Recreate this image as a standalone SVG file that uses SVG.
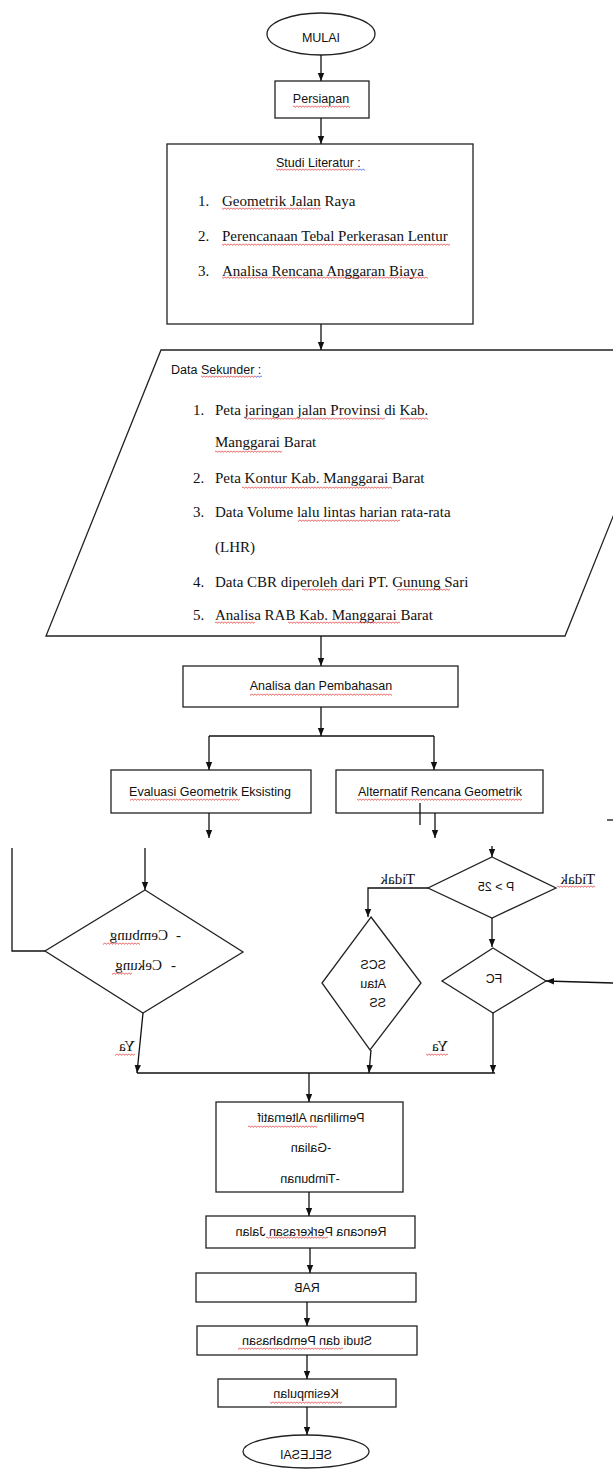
<svg xmlns="http://www.w3.org/2000/svg" width="613" height="1470" viewBox="0 0 613 1470">
<style>
.sh{fill:#fff;stroke:#222;stroke-width:1.3}
.cn{fill:none;stroke:#111;stroke-width:1.3}
.ar{marker-end:url(#ah)}
.s{font-family:"Liberation Sans",Arial,sans-serif;font-size:12.5px;fill:#111}
.m{font-family:"Liberation Serif","Times New Roman",serif;font-size:15px;fill:#111}
.c{text-anchor:middle}
.sq{fill:url(#sqr)}
.sb{fill:url(#sqb)}
</style>
<defs>
<marker id="ah" viewBox="0 0 10 10" refX="10" refY="5" markerWidth="8" markerHeight="8" markerUnits="userSpaceOnUse" orient="auto"><path d="M0,1 L10,5 L0,9 z" fill="#111"/></marker>
<pattern id="sqr" width="3" height="3" patternUnits="userSpaceOnUse"><path d="M0,0.6 L1.5,2.4 L3,0.6" fill="none" stroke="#e02020" stroke-width="0.7"/></pattern>
<pattern id="sqb" width="3" height="3" patternUnits="userSpaceOnUse"><path d="M0,0.6 L1.5,2.4 L3,0.6" fill="none" stroke="#2040e0" stroke-width="0.7"/></pattern>
</defs>
<rect width="613" height="1470" fill="#fff"/>

<g id="mulai">
<ellipse class="sh" cx="321" cy="34" rx="54" ry="21"/>
<text class="s c" x="321" y="42" font-size="12">MULAI</text>
</g>

<g id="persiapan">
<rect class="sh" x="275" y="81" width="94" height="37"/>
<text class="s c" x="321" y="103">Persiapan</text>
<rect class="sq" x="293" y="105" width="57" height="3"/>
</g>

<g id="studi-literatur">
<rect class="sh" x="167" y="144" width="306" height="180"/>
<text class="s" x="276" y="167" font-size="13">Studi Literatur :</text>
<rect class="sq" x="276" y="168" width="80" height="3"/>
<rect class="sb" x="356" y="168" width="9" height="3"/>
<text class="m" x="198" y="206">1.</text>
<text class="m" x="222" y="206">Geometrik Jalan Raya</text>
<rect class="sq" x="222" y="207" width="99" height="3"/>
<text class="m" x="198" y="241">2.</text>
<text class="m" x="222" y="241">Perencanaan Tebal Perkerasan Lentur</text>
<rect class="sq" x="222" y="243" width="228" height="3"/>
<text class="m" x="198" y="276">3.</text>
<text class="m" x="222" y="276">Analisa Rencana Anggaran Biaya</text>
<rect class="sq" x="222" y="276" width="206" height="3"/>
</g>

<g id="data-sekunder">
<polygon class="sh" points="161,350 680,350 565,636 46,636"/>
<text class="s" x="171" y="374" font-size="12.3">Data Sekunder :</text>
<rect class="sq" x="201" y="375" width="54" height="3"/>
<rect class="sb" x="255" y="375" width="7" height="3"/>
<text class="m" x="193" y="415">1.</text>
<text class="m" x="215" y="415">Peta jaringan jalan Provinsi di Kab.</text>
<rect class="sq" x="245" y="417" width="140" height="3"/>
<rect class="sq" x="400" y="417" width="28" height="3"/>
<text class="m" x="215" y="447">Manggarai Barat</text>
<rect class="sq" x="215" y="450" width="67" height="3"/>
<text class="m" x="193" y="483">2.</text>
<text class="m" x="215" y="483">Peta Kontur Kab. Manggarai Barat</text>
<rect class="sq" x="242" y="486" width="150" height="3"/>
<text class="m" x="193" y="517">3.</text>
<text class="m" x="215" y="517">Data Volume lalu lintas harian rata-rata</text>
<rect class="sq" x="298" y="519" width="102" height="3"/>
<text class="m" x="215" y="552">(LHR)</text>
<text class="m" x="193" y="587">4.</text>
<text class="m" x="215" y="587">Data CBR diperoleh dari PT. Gunung Sari</text>
<rect class="sq" x="302" y="588" width="51" height="3"/>
<rect class="sq" x="397" y="588" width="53" height="3"/>
<text class="m" x="193" y="620">5.</text>
<text class="m" x="215" y="620">Analisa RAB Kab. Manggarai Barat</text>
<rect class="sq" x="215" y="621" width="40" height="3"/>
<rect class="sq" x="288" y="621" width="112" height="3"/>
</g>

<g id="analisa">
<rect class="sh" x="183" y="666" width="275" height="41"/>
<text class="s c" x="321" y="690">Analisa dan Pembahasan</text>
<rect class="sq" x="250" y="693" width="142" height="3"/>
</g>

<g id="evaluasi">
<rect class="sh" x="111" y="770" width="200" height="43"/>
<text class="s c" x="210" y="796" font-size="12.3">Evaluasi Geometrik Eksisting</text>
<rect class="sq" x="130" y="798" width="110" height="3"/>
</g>

<g id="alternatif">
<rect class="sh" x="336" y="770" width="207" height="43"/>
<text class="s c" x="440" y="796" font-size="12.3">Alternatif Rencana Geometrik</text>
<rect class="sq" x="357" y="798" width="165" height="3"/>
</g>

<g id="cembung-cekung">
<polygon class="sh" points="145,890 243,952 143,1013 45,951"/>
<text class="m" transform="scale(-1,1)" x="-181" y="940">-</text>
<text class="m" transform="scale(-1,1)" x="-168" y="940" font-size="16">Cembung</text>
<rect class="sq" x="103" y="942" width="37" height="3"/>
<text class="m" transform="scale(-1,1)" x="-176" y="970">-</text>
<text class="m" transform="scale(-1,1)" x="-162" y="970" font-size="16">Cekung</text>
<rect class="sq" x="112" y="972" width="20" height="3"/>
</g>

<g id="p-25">
<polygon class="sh" points="492,857 556,888 492,918 428,888"/>
<text class="s c" transform="scale(-1,1)" x="-496" y="891" font-size="12.5">P &gt; 25</text>
</g>

<g id="label-tidak-1">
<text class="m" transform="scale(-1,1)" x="-415" y="884">Tidak</text>
</g>
<g id="label-tidak-2">
<text class="m" transform="scale(-1,1)" x="-595" y="884">Tidak</text>
<rect class="sq" x="557" y="885" width="38" height="3"/>
</g>

<g id="scs-ss">
<polygon class="sh" points="371,917 421,983 370,1050 322,983"/>
<text class="s" transform="scale(-1,1)" x="-386" y="969" font-size="11">SCS</text>
<text class="s" transform="scale(-1,1)" x="-386" y="988" font-size="11">Atau</text>
<text class="s" transform="scale(-1,1)" x="-386" y="1007" font-size="11">SS</text>
</g>

<g id="fc">
<polygon class="sh" points="493,948 546,981 493,1013 442,981"/>
<text class="s c" transform="scale(-1,1)" x="-494" y="983" font-size="11">FC</text>
</g>

<g id="label-ya-1">
<text class="m" transform="scale(-1,1)" x="-135" y="1051">Ya</text>
<rect class="sq" x="115" y="1053" width="20" height="3"/>
</g>
<g id="label-ya-2">
<text class="m" transform="scale(-1,1)" x="-448" y="1051">Ya</text>
<rect class="sq" x="426" y="1053" width="22" height="3"/>
</g>

<g id="pemilihan">
<rect class="sh" x="216" y="1102" width="187" height="90"/>
<text class="s c" transform="scale(-1,1)" x="-311" y="1122" font-size="14">Pemilihan Alternatif</text>
<rect class="sq" x="248" y="1125" width="69" height="3"/>
<text class="s c" transform="scale(-1,1)" x="-311" y="1152" font-size="13">-Galian</text>
<text class="s c" transform="scale(-1,1)" x="-310" y="1183" font-size="13">-Timbunan</text>
</g>

<g id="rencana-perkerasan">
<rect class="sh" x="206" y="1216" width="209" height="32"/>
<text class="s c" transform="scale(-1,1)" x="-311" y="1236" font-size="12.9">Rencana Perkerasan Jalan</text>
<rect class="sq" x="266" y="1236" width="62" height="3"/>
</g>

<g id="rab">
<rect class="sh" x="196" y="1273" width="220" height="29"/>
<text class="s c" transform="scale(-1,1)" x="-307" y="1292" font-size="11">RAB</text>
</g>

<g id="studi-pembahasan">
<rect class="sh" x="197" y="1326" width="220" height="29"/>
<text class="s c" transform="scale(-1,1)" x="-307" y="1345" font-size="13.5">Studi dan Pembahasan</text>
<rect class="sq" x="238" y="1347" width="105" height="3"/>
</g>

<g id="kesimpulan">
<rect class="sh" x="218" y="1379" width="178" height="28"/>
<text class="s c" transform="scale(-1,1)" x="-306" y="1398" font-size="13.8">Kesimpulan</text>
<rect class="sq" x="270" y="1401" width="72" height="3"/>
</g>

<g id="selesai">
<ellipse class="sh" cx="306" cy="1451.5" rx="63" ry="16.5"/>
<text class="s c" transform="scale(-1,1)" x="-306" y="1459" font-size="11.3">SELESAI</text>
</g>

<g id="connectors">
<path class="cn ar" d="M321,55 V81"/>
<path class="cn ar" d="M321,118 V144"/>
<path class="cn ar" d="M321,324 V350"/>
<path class="cn ar" d="M321,636 V666"/>
<path class="cn ar" d="M321,707 V736"/>
<path class="cn" d="M209,736 H434"/>
<path class="cn ar" d="M209,736 V770"/>
<path class="cn ar" d="M434,736 V770"/>
<path class="cn ar" d="M209,813 V838"/>
<path class="cn ar" d="M435,813 V838"/>
<path class="cn" d="M420,803 V825"/>
<path class="cn" d="M607,820 H613"/>
<path class="cn" d="M12,848 V951 H45"/>
<path class="cn ar" d="M145,848 V890"/>
<path class="cn ar" d="M492,846 V857"/>
<path class="cn ar" d="M428,888 H368 V917"/>
<path class="cn ar" d="M492,918 V947"/>
<path class="cn ar" d="M613,983 L546,981"/>
<path class="cn ar" d="M143,1013 L137,1073"/>
<path class="cn ar" d="M371,1050 L369,1073"/>
<path class="cn ar" d="M493,1013 V1073"/>
<path class="cn" d="M137,1073 H495"/>
<path class="cn ar" d="M309,1073 V1102"/>
<path class="cn ar" d="M309,1192 V1216"/>
<path class="cn ar" d="M310,1248 V1273"/>
<path class="cn ar" d="M307,1302 V1326"/>
<path class="cn ar" d="M307,1355 V1379"/>
<path class="cn ar" d="M307,1407 V1435"/>
</g>
</svg>
